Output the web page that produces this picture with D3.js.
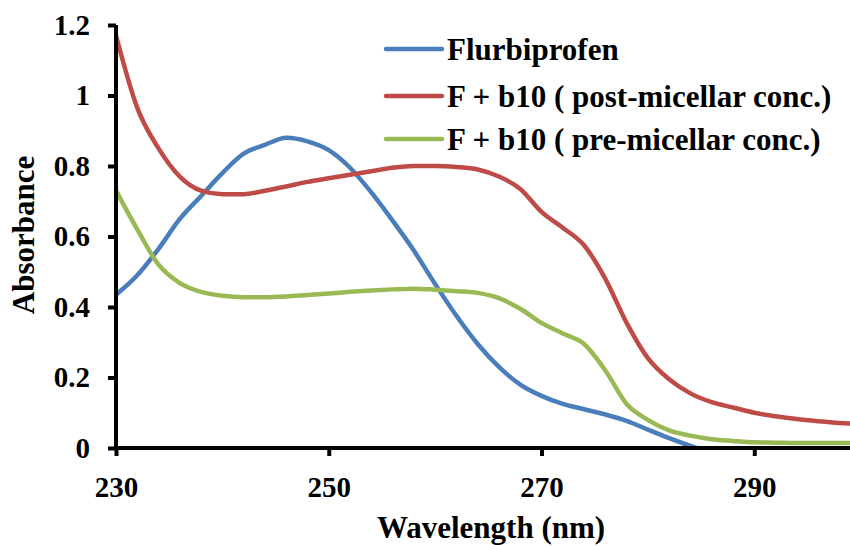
<!DOCTYPE html>
<html>
<head>
<meta charset="utf-8">
<script src="https://cdn.jsdelivr.net/npm/d3@7/dist/d3.min.js"></script>
<style>
  html, body { margin: 0; padding: 0; background: #fff; }
  svg { display: block; }
</style>
</head>
<body>
<svg id="chart" width="850" height="546"></svg>
<script>
// UV absorption spectra, absorbance vs wavelength (nm)
const wavelengths = [230,232,234,236,238,240,242,244,246,248,250,252,254,256,258,260,262,264,266,268,270,272,274,276,278,280,282,284,286,288,290,292,294,296,298,300];

const flurbiprofen = [0.435,0.49,0.565,0.65,0.715,0.78,0.835,0.86,0.88,0.87,0.845,0.795,0.725,0.645,0.56,0.465,0.375,0.295,0.23,0.18,0.148,0.125,0.11,0.095,0.077,0.052,0.028,0.006,-0.012,null,null,null,null,null,null,null];

const postMicellar = [1.17,0.965,0.85,0.77,0.73,0.72,0.72,0.73,0.742,0.755,0.765,0.775,0.785,0.795,0.80,0.80,0.797,0.79,0.77,0.735,0.67,0.625,0.575,0.48,0.355,0.255,0.195,0.155,0.13,0.115,0.10,0.09,0.082,0.076,0.071,0.068];

const preMicellar = [0.73,0.62,0.52,0.468,0.443,0.432,0.428,0.428,0.43,0.434,0.438,0.443,0.447,0.45,0.452,0.449,0.445,0.44,0.425,0.395,0.355,0.325,0.295,0.22,0.125,0.08,0.05,0.035,0.025,0.02,0.016,0.015,0.014,0.014,0.014,0.014];

const seriesNames = ["Flurbiprofen", "F + b10 ( post-micellar conc.)", "F + b10 ( pre-micellar conc.)"];
const seriesColors = ["#4A7EBB", "#BE4B48", "#98B954"];
const seriesValues = [flurbiprofen, postMicellar, preMicellar];

const xTicks = [230, 250, 270, 290];
const yTicks = [0, 0.2, 0.4, 0.6, 0.8, 1, 1.2];

const FONT = "Liberation Serif";
const svg = d3.select("#chart");
const plotLeft = 116, plotRight = 850, plotTop = 25, plotBottom = 448;

const x = d3.scaleLinear().domain([230, 299]).range([plotLeft, plotRight]);
const y = d3.scaleLinear().domain([0, 1.2]).range([plotBottom, plotTop]);

svg.append("defs").append("clipPath").attr("id", "plot")
  .append("rect").attr("x", plotLeft).attr("y", 0)
  .attr("width", plotRight - plotLeft).attr("height", plotBottom);

// curves
const line = d3.line()
  .defined(d => d[1] !== null)
  .x(d => x(d[0]))
  .y(d => y(d[1]))
  .curve(d3.curveMonotoneX);

const plot = svg.append("g").attr("clip-path", "url(#plot)");
seriesValues.forEach((vals, i) => {
  plot.append("path")
    .datum(wavelengths.map((w, j) => [w, vals[j]]))
    .attr("fill", "none")
    .attr("stroke", seriesColors[i])
    .attr("stroke-width", 4.5)
    .attr("stroke-linejoin", "round")
    .attr("stroke-linecap", "round")
    .attr("d", line);
});

// axes
const yAxis = svg.append("g").attr("transform", `translate(${plotLeft},0)`)
  .call(d3.axisLeft(y).tickValues(yTicks).tickSize(8).tickPadding(18)
    .tickFormat(d => String(+d.toFixed(1))));
const xAxis = svg.append("g").attr("transform", `translate(0,${plotBottom})`)
  .call(d3.axisBottom(x).tickValues(xTicks).tickSize(8).tickFormat(d3.format("d")));

[yAxis, xAxis].forEach(g => {
  g.attr("font-family", FONT).attr("font-weight", "bold").attr("font-size", 29);
  g.select(".domain").attr("stroke", "#000").attr("stroke-width", 4);
  g.selectAll(".tick line").attr("stroke", "#000").attr("stroke-width", 4);
  g.selectAll(".tick text").attr("fill", "#000");
});
xAxis.selectAll(".tick text").attr("y", 49).attr("dy", 0);
xAxis.select(".domain").attr("d", `M${plotLeft - 2},0H${plotRight}`);
yAxis.select(".domain").attr("d", `M0,${plotTop}V${plotBottom + 2}`);

// axis titles
svg.append("text")
  .attr("x", 491).attr("y", 538)
  .attr("text-anchor", "middle")
  .attr("font-family", FONT).attr("font-weight", "bold").attr("font-size", 31)
  .text("Wavelength (nm)");

svg.append("text")
  .attr("transform", `translate(34,235) rotate(-90)`)
  .attr("text-anchor", "middle")
  .attr("font-family", FONT).attr("font-weight", "bold").attr("font-size", 31)
  .text("Absorbance");

// legend
const legendRows = [49, 96, 139];
const legend = svg.append("g");
seriesNames.forEach((name, i) => {
  const g = legend.append("g").attr("transform", `translate(0,${legendRows[i]})`);
  g.append("line").attr("x1", 386).attr("x2", 442).attr("y1", 0).attr("y2", 0)
    .attr("stroke", seriesColors[i]).attr("stroke-width", 4.5).attr("stroke-linecap", "round");
  g.append("text").attr("x", 447).attr("y", 10.5)
    .attr("font-family", FONT).attr("font-weight", "bold").attr("font-size", 31)
    .text(name);
});
</script>
</body>
</html>
